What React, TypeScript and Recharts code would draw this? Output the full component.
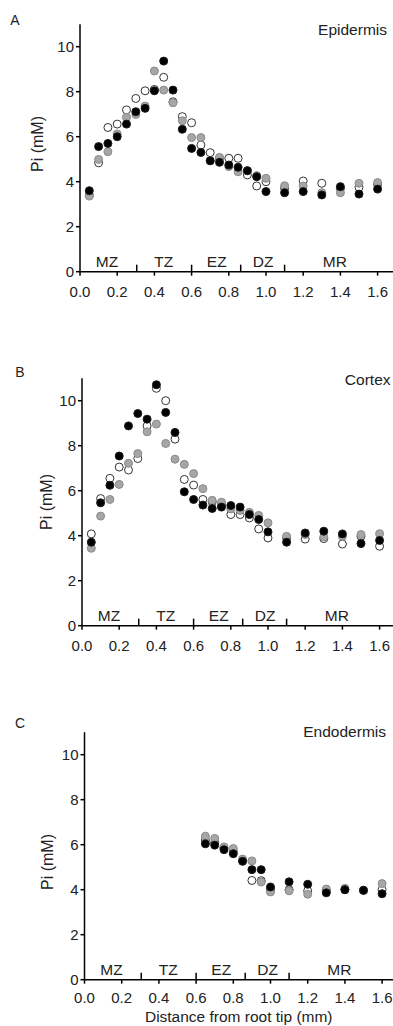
import React from 'react';
import { ScatterChart, Scatter, XAxis, YAxis } from 'recharts';

// distance from root tip (mm)
const xsFull = [0.05, 0.1, 0.15, 0.2, 0.25, 0.3, 0.35, 0.4, 0.45, 0.5, 0.55, 0.6, 0.65, 0.7, 0.75, 0.8, 0.85, 0.9, 0.95, 1.0, 1.1, 1.2, 1.3, 1.4, 1.5, 1.6];
const xsEndo = [0.65, 0.7, 0.75, 0.8, 0.85, 0.9, 0.95, 1.0, 1.1, 1.2, 1.3, 1.4, 1.5, 1.6];

// Pi (mM), epidermis
const epiBlack = [3.6, 5.56, 5.7, 6.0, 6.56, 7.11, 7.26, 8.04, 9.36, 8.07, 6.33, 5.48, 5.3, 4.93, 4.86, 4.74, 4.64, 4.49, 4.22, 3.56, 3.51, 3.56, 3.41, 3.78, 3.45, 3.67];
const epiGray = [3.36, 4.99, 5.33, 6.12, 6.86, 6.99, 7.36, 8.92, 8.07, 7.51, 6.71, 5.96, 5.96, 4.93, 5.08, 4.67, 4.44, 4.49, 4.27, 4.15, 3.82, 3.81, 3.51, 3.51, 3.93, 3.96];
const epiWhite = [3.4, 4.84, 6.41, 6.56, 7.19, 7.7, 8.04, 8.1, 8.64, 7.55, 6.89, 6.62, 5.63, 5.29, 5.04, 5.04, 5.04, 4.3, 3.81, 4.0, 3.7, 4.03, 3.93, 3.7, 3.75, 3.88];

// Pi (mM), cortex
const corBlack = [3.71, 5.46, 6.24, 7.54, 8.88, 9.43, 9.18, 10.71, 9.48, 8.59, 5.95, 5.61, 5.36, 5.21, 5.27, 5.34, 5.27, 4.94, 4.72, 4.17, 3.71, 4.12, 4.2, 4.08, 3.65, 3.79];
const corGray = [3.44, 4.87, 5.61, 6.28, 7.22, 7.65, 8.62, 8.96, 8.1, 7.4, 7.17, 6.76, 6.09, 5.57, 5.49, 5.19, 5.12, 5.04, 4.9, 4.57, 3.97, 4.05, 3.94, 3.97, 4.05, 4.09];
const corWhite = [4.08, 5.65, 6.55, 7.05, 6.92, 7.43, 8.88, 10.55, 10.0, 8.29, 6.5, 6.25, 5.61, 5.5, 5.39, 4.94, 4.94, 4.79, 4.3, 3.9, 3.9, 3.85, 3.87, 3.63, 3.97, 3.53];

// Pi (mM), endodermis
const endoBlack = [6.04, 5.98, 5.78, 5.6, 5.26, 4.89, 4.89, 4.12, 4.35, 4.24, 3.86, 4.0, 3.97, 3.82];
const endoGray = [6.38, 6.28, 5.9, 5.83, 5.36, 5.28, 4.34, 3.9, 3.95, 3.8, 4.03, 4.06, 3.98, 4.27];
const endoWhite = [6.2, 6.1, 5.85, 5.7, 5.3, 4.41, 4.4, 4.0, 4.0, 3.95, 3.95, 4.0, 3.97, 4.0];

// root zones: label centres and boundaries (mm)
const zoneNames = ['MZ', 'TZ', 'EZ', 'DZ', 'MR'];
const zoneCentres = [0.145, 0.45, 0.735, 0.985, 1.37];
const zoneBounds = [0.305, 0.6, 0.864, 1.1];

const xTicks = [0, 0.2, 0.4, 0.6, 0.8, 1.0, 1.2, 1.4, 1.6];
const yTicks = [0, 2, 4, 6, 8, 10];

const FONT = '"Liberation Sans", Arial, sans-serif';
const TEXT = '#222';
const W = 393;
const PX_PER_MM = 186;
const PLOT_TOP = 24.2;
const PLOT_H = 247.5;

const toPoints = (xs: number[], ys: number[]) => xs.map((x, i) => ({ x, y: ys[i] }));

const dot = (fill: string, stroke: string) => (p: any) => (
  <circle cx={p.cx} cy={p.cy} r={4} fill={fill} stroke={stroke} strokeWidth={1} />
);

const zoneData = zoneNames.map((name, i) => ({ x: zoneCentres[i], y: 0, name }));
const boundData = zoneBounds.map((x) => ({ x, y: 0 }));

interface PanelProps {
  top: number;
  axisX: number;
  letter: string;
  letterX: number;
  letterY: number;
  title: string;
  titleRight: number;
  titleY: number;
  yLabelX: number;
  yLabelY: number;
  xs: number[];
  black: number[];
  gray: number[];
  white: number[];
  xTitle?: string;
}

const Panel: React.FC<PanelProps> = ({
  top, axisX, letter, letterX, letterY, title, titleRight, titleY,
  yLabelX, yLabelY, xs, black, gray, white, xTitle,
}) => {
  const xMax = (W - axisX) / PX_PER_MM;
  const xAxisH = xTitle ? 48 : 40;
  const height = PLOT_TOP + PLOT_H + xAxisH;

  return (
    <div style={{ position: 'absolute', left: 0, top, width: W, height }}>
      <ScatterChart width={W} height={height} margin={{ top: PLOT_TOP, right: 0, bottom: 0, left: 0 }}>
        <XAxis
          type="number"
          dataKey="x"
          domain={[0, xMax]}
          ticks={xTicks}
          tickFormatter={(v: number) => v.toFixed(1)}
          height={xAxisH}
          axisLine={{ stroke: '#000', strokeWidth: 1.5 }}
          tickLine={{ stroke: '#000', strokeWidth: 1.5 }}
          tickSize={4}
          tickMargin={xTitle ? 9 : 11}
          tick={{ fill: TEXT, fontSize: 15, fontFamily: FONT }}
          label={xTitle ? {
            value: xTitle,
            position: 'insideBottom',
            offset: 6,
            style: { fill: TEXT, fontSize: 15.5, fontFamily: FONT },
          } : undefined}
        />
        <YAxis
          type="number"
          dataKey="y"
          domain={[0, 11]}
          ticks={yTicks}
          width={axisX}
          axisLine={{ stroke: '#000', strokeWidth: 1.5 }}
          tickLine={{ stroke: '#000', strokeWidth: 1.5 }}
          tickSize={4}
          tickMargin={2}
          tick={{ fill: TEXT, fontSize: 15, fontFamily: FONT }}
        />
        {/* zone boundaries rise from the x axis */}
        <Scatter
          data={boundData}
          isAnimationActive={false}
          shape={(p: any) => (
            <line x1={p.cx} x2={p.cx} y1={p.cy} y2={p.cy - 7} stroke="#000" strokeWidth={1.5} />
          )}
        />
        <Scatter
          data={zoneData}
          isAnimationActive={false}
          shape={(p: any) => (
            <text
              x={p.cx}
              y={p.cy - 10}
              textAnchor="middle"
              dominantBaseline="central"
              fill={TEXT}
              fontSize={15.5}
              fontFamily={FONT}
            >
              {p.payload.name}
            </text>
          )}
        />
        <Scatter data={toPoints(xs, white)} isAnimationActive={false} shape={dot('#ffffff', '#333333')} />
        <Scatter data={toPoints(xs, gray)} isAnimationActive={false} shape={dot('#a6a6a6', '#8a8a8a')} />
        <Scatter data={toPoints(xs, black)} isAnimationActive={false} shape={dot('#000000', '#1a1a1a')} />
      </ScatterChart>
      <div style={{ position: 'absolute', left: letterX, top: letterY, transform: 'translate(-50%, -50%)', fontSize: 14, color: TEXT, lineHeight: 1 }}>
        {letter}
      </div>
      <div style={{ position: 'absolute', right: W - titleRight, top: titleY, transform: 'translateY(-50%)', fontSize: 15.5, color: TEXT, lineHeight: 1 }}>
        {title}
      </div>
      <div
        style={{
          position: 'absolute', left: yLabelX, top: yLabelY, transform: 'translate(-50%, -50%) rotate(-90deg)',
          fontSize: 16, color: TEXT, lineHeight: 1, whiteSpace: 'nowrap',
        }}
      >
        Pi (mM)
      </div>
    </div>
  );
};

export default function App() {
  return (
    <div style={{ position: 'absolute', left: 0, top: 0, width: W, height: 1026, overflow: 'hidden', background: '#fff', fontFamily: FONT }}>
      <Panel
        top={0} axisX={80} letter="A" letterX={15} letterY={20}
        title="Epidermis" titleRight={387} titleY={30} yLabelX={38} yLabelY={144}
        xs={xsFull} black={epiBlack} gray={epiGray} white={epiWhite}
      />
      <Panel
        top={354} axisX={82} letter="B" letterX={20} letterY={17.7}
        title="Cortex" titleRight={390.5} titleY={26} yLabelX={46.5} yLabelY={148}
        xs={xsFull} black={corBlack} gray={corGray} white={corWhite}
      />
      <Panel
        top={708} axisX={84.5} letter="C" letterX={20} letterY={15.3}
        title="Endodermis" titleRight={386} titleY={23.7} yLabelX={48} yLabelY={153.7}
        xs={xsEndo} black={endoBlack} gray={endoGray} white={endoWhite}
        xTitle="Distance from root tip (mm)"
      />
    </div>
  );
}
